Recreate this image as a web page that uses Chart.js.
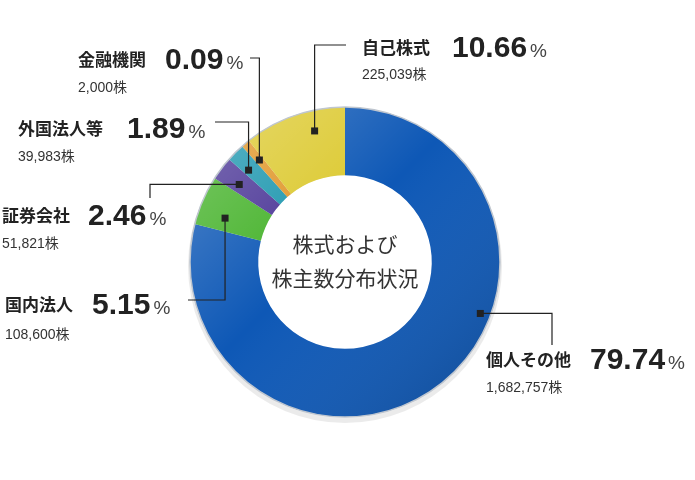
<!DOCTYPE html>
<html><head><meta charset="utf-8">
<script src="https://cdn.jsdelivr.net/npm/chart.js@4.4.0/dist/chart.umd.min.js"></script>
<style>body{margin:0;background:#fff}canvas{display:block}</style>
</head><body>
<canvas id="c" width="695" height="480"></canvas>
<script>
/* ── Data ───────────────────────────────────── */
const NAMES   = ['個人その他', '国内法人', '証券会社', '外国法人等', '金融機関', '自己株式'];
const PCTS    = ['79.74', '5.15', '2.46', '1.89', '0.09', '10.66'];
const COUNTS  = ['1,682,757株', '108,600株', '51,821株', '39,983株', '2,000株', '225,039株'];
const ARC_VAL = [78.9, 5.15, 2.46, 1.89, 0.9, 10.66]; /* shares as drawn */
const COLORS  = ['#0e58b6', '#45b22a', '#4a3596', '#1c96ae', '#e09628', '#dcc92f'];

/* ── Callout layout ─────────────────────────── */
const CALLOUT = [
  { t: 0.39, r: 0.85, path: m => [[552, m.y], [552, 345]], name: [486, 366], num: 590, cnt: [486, 392] },
  { t: 0.32, r: 0.6,  path: m => [[m.x, 300], [188, 300]], name: [5, 311],   num: 92,  cnt: [5, 339] },
  { t: 0.4,  r: 0.65, path: m => [[150, m.y], [150, 198]], name: [2, 222],   num: 88,  cnt: [2, 248] },
  { t: 0.3,  r: 0.68, path: m => [[m.x, 122], [215, 122]], name: [18, 135],  num: 127, cnt: [18, 161] },
  { t: 0.5,  r: 0.68, path: m => [[m.x, 58], [250, 58]],   name: [78, 66],   num: 165, cnt: [78, 92] },
  { t: 0.66, r: 0.7,  path: m => [[m.x, 45], [346, 45]],   name: [362, 54],  num: 452, cnt: [362, 79] },
];

const callouts = {
  id: 'callouts',
  afterDraw(chart) {
    const ctx = chart.ctx;
    const arcs = chart.getDatasetMeta(0).data;
    ctx.save();
    arcs.forEach((a, i) => {
      const c = CALLOUT[i];
      const ang = a.startAngle + c.t * (a.endAngle - a.startAngle);
      const rad = a.innerRadius + c.r * (a.outerRadius - a.innerRadius);
      const m = { x: a.x + Math.cos(ang) * rad, y: a.y + Math.sin(ang) * rad };
      ctx.strokeStyle = '#222'; ctx.lineWidth = 1.2;
      ctx.beginPath(); ctx.moveTo(m.x, m.y);
      c.path(m).forEach(p => ctx.lineTo(p[0], p[1]));
      ctx.stroke();
      ctx.fillStyle = '#222';
      ctx.fillRect(m.x - 3.5, m.y - 3.5, 7, 7);

      ctx.textAlign = 'left'; ctx.textBaseline = 'alphabetic';
      ctx.font = 'bold 17px "Noto Sans CJK JP", sans-serif';
      ctx.fillStyle = '#222';
      ctx.fillText(NAMES[i], c.name[0], c.name[1]);
      ctx.font = 'bold 30px "Liberation Sans", Arial, sans-serif';
      ctx.fillText(PCTS[i], c.num, c.name[1] + 3);
      const w = ctx.measureText(PCTS[i]).width;
      ctx.font = '19px "Liberation Sans", Arial, sans-serif';
      ctx.fillStyle = '#444';
      ctx.fillText('%', c.num + w + 3, c.name[1] + 3);
      ctx.font = '14px "Liberation Sans", "Noto Sans CJK JP", sans-serif';
      ctx.fillStyle = '#333';
      ctx.fillText(COUNTS[i], c.cnt[0], c.cnt[1]);
    });
    const a0 = arcs[0];
    ctx.font = '21px "Noto Sans CJK JP", sans-serif';
    ctx.fillStyle = '#333'; ctx.textAlign = 'center'; ctx.textBaseline = 'middle';
    ctx.fillText('株式および', a0.x, a0.y - 18);
    ctx.fillText('株主数分布状況', a0.x, a0.y + 16);
    ctx.restore();
  }
};

const ringShade = {
  id: 'ringShade',
  beforeDatasetsDraw(chart) {
    const a = chart.getDatasetMeta(0).data[0];
    const ctx = chart.ctx;
    ctx.save();
    ctx.beginPath(); ctx.arc(a.x, a.y + 4, a.outerRadius + 2, 0, Math.PI * 2);
    ctx.fillStyle = 'rgba(0,0,0,0.08)'; ctx.fill();
    ctx.beginPath(); ctx.arc(a.x, a.y, a.innerRadius + 2, 0, Math.PI * 2);
    ctx.fillStyle = '#fff'; ctx.fill();
    ctx.strokeStyle = '#c9ced6'; ctx.lineWidth = 3; ctx.stroke();
    ctx.restore();
  },
  afterDatasetsDraw(chart) {
    const a = chart.getDatasetMeta(0).data[0];
    const ctx = chart.ctx;
    ctx.save();
    ctx.beginPath();
    ctx.arc(a.x, a.y, a.outerRadius, 0, Math.PI * 2);
    ctx.arc(a.x, a.y, a.innerRadius, 0, Math.PI * 2, true);
    const g = ctx.createLinearGradient(a.x - a.outerRadius, a.y - a.outerRadius, a.x + a.outerRadius, a.y + a.outerRadius);
    g.addColorStop(0, 'rgba(255,255,255,0.3)');
    g.addColorStop(0.45, 'rgba(255,255,255,0)');
    g.addColorStop(1, 'rgba(0,0,0,0.2)');
    ctx.fillStyle = g; ctx.fill();
    ctx.beginPath(); ctx.arc(a.x, a.y, a.outerRadius, 0, Math.PI * 2);
    ctx.strokeStyle = '#bfc6cf'; ctx.lineWidth = 1.5; ctx.stroke();
    ctx.restore();
  }
};

new Chart(document.getElementById('c'), {
  type: 'doughnut',
  data: {
    labels: NAMES,
    datasets: [{ data: ARC_VAL, backgroundColor: COLORS, borderWidth: 0 }],
  },
  options: {
    responsive: false,
    animation: false,
    cutout: '56%',
    layout: { padding: { left: 190, right: 195, top: 107, bottom: 63 } },
    plugins: { legend: { display: false }, tooltip: { enabled: false } },
  },
  plugins: [ringShade, callouts],
});
</script>
</body></html>
